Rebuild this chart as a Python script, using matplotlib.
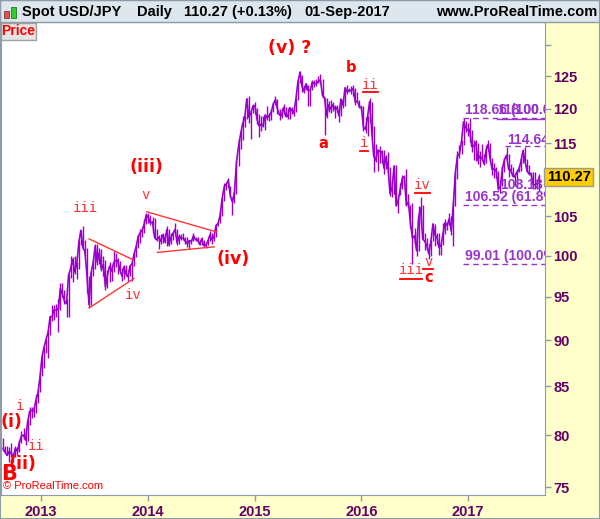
import pandas as pd
import matplotlib.pyplot as plt
import numpy as np
from matplotlib.patches import Rectangle
from matplotlib.ticker import FixedLocator, NullLocator

plt.rcParams['font.family'] = ['Liberation Sans', 'DejaVu Sans']

# weekly (Friday) close / high / low, starting 24-Aug-2012
start = '2012-08-24'
close12 = [78.7, 78.3, 78.0, 78.4, 78.2, 77.9, 78.7, 78.4, 79.3, 79.9, 80.0, 79.5, 81.3, 82.4, 82.5, 82.4, 83.5, 84.2, 85.9]
high12 = [79.7, 78.9, 78.9, 78.8, 79.2, 78.2, 78.9, 78.8, 79.5, 80.4, 80.7, 80.4, 81.5, 82.8, 82.8, 82.8, 84.2, 84.6, 86.1]
low12 = [78.4, 78.2, 78.0, 77.4, 77.9, 77.4, 77.9, 78.0, 78.3, 79.2, 79.6, 79.0, 79.4, 81.0, 81.7, 81.8, 82.2, 83.3, 84.4]

close13 = [88.1, 89.2, 90.1, 90.9, 92.7, 92.7, 93.5, 93.4, 93.6, 96.0, 95.3, 94.5, 94.2, 97.6, 98.4, 99.5, 98.0,
           98.9, 101.6, 103.2, 101.0, 100.5, 97.5, 94.1, 97.9, 99.1, 101.2, 99.2, 100.4, 98.3, 98.9, 96.2, 97.6, 98.7,
           98.1, 99.1, 99.4, 99.4, 98.3, 97.5, 98.6, 97.8, 97.4, 98.7, 99.0, 100.2, 101.1, 102.4, 102.9, 103.2, 104.1, 105.2]
high13 = [88.4, 89.3, 90.2, 91.0, 92.8, 94.1, 94.0, 94.2, 94.8, 96.6, 96.7, 95.8, 94.8, 97.8, 99.9, 99.8, 99.9,
          99.2, 101.9, 103.3, 103.7, 102.0, 100.9, 97.5, 98.1, 99.4, 101.5, 101.5, 101.0, 100.8, 99.9, 99.4, 98.2, 99.2,
          98.9, 100.6, 100.3, 99.7, 99.3, 98.5, 98.8, 98.9, 98.2, 98.9, 99.2, 100.4, 101.3, 102.6, 103.4, 103.6, 104.6, 105.4]
low13 = [86.1, 87.0, 88.6, 88.1, 90.6, 92.2, 92.3, 92.7, 90.9, 93.5, 95.0, 94.2, 92.6, 92.6, 97.2, 96.8, 97.8,
         97.1, 98.3, 101.3, 100.8, 100.0, 95.5, 93.8, 94.1, 97.5, 98.4, 98.8, 99.0, 98.1, 97.5, 95.8, 96.1, 96.8,
         96.9, 98.0, 98.6, 97.8, 98.1, 96.9, 97.1, 97.5, 96.9, 97.5, 96.9, 98.7, 99.8, 100.9, 101.6, 102.4, 102.9, 104.0]

close14 = [104.8, 104.1, 104.3, 102.3, 102.0, 102.3, 101.8, 102.6, 101.8, 103.3, 101.4, 102.3, 102.8, 103.3, 101.6,
           102.4, 102.2, 102.2, 101.8, 101.5, 101.9, 101.8, 102.5, 102.0, 102.0, 101.4, 102.1, 101.3, 101.3, 101.8,
           102.6, 102.0, 102.4, 103.8, 104.1, 105.1, 107.4, 108.9, 109.3, 109.8, 107.7, 106.9, 108.2, 112.3, 114.6,
           116.3, 117.8, 118.6, 121.5, 118.8, 119.4, 120.4]
high14 = [105.4, 105.2, 104.9, 104.8, 103.4, 102.6, 102.7, 102.8, 102.7, 103.8, 103.4, 102.8, 102.9, 104.1, 103.4,
          102.7, 102.7, 102.9, 102.3, 102.3, 101.9, 102.0, 102.8, 102.4, 102.3, 102.0, 102.3, 101.9, 101.6, 101.9,
          103.1, 102.8, 102.6, 104.0, 104.2, 105.7, 107.4, 109.5, 109.4, 110.1, 109.1, 107.5, 108.4, 112.5, 115.6,
          116.9, 118.9, 118.9, 121.7, 121.9, 119.6, 120.8]
low14 = [104.2, 103.9, 102.9, 102.1, 101.8, 100.8, 101.4, 101.6, 101.6, 101.2, 101.2, 101.4, 102.0, 102.9, 101.3,
         101.4, 101.9, 102.0, 101.4, 101.1, 100.8, 101.5, 101.8, 101.8, 101.7, 101.3, 101.3, 101.1, 101.0, 101.3,
         101.8, 101.5, 101.8, 102.4, 103.7, 104.1, 105.0, 107.0, 108.5, 108.9, 107.6, 105.2, 106.7, 107.9, 111.8,
         114.2, 115.5, 117.3, 118.5, 117.9, 115.6, 119.4]

close15 = [120.5, 118.5, 117.5, 117.7, 117.5, 119.1, 118.7, 119.0, 119.6, 120.8, 121.4, 120.0, 119.1, 119.0, 120.2,
           118.9, 118.9, 120.2, 119.8, 119.4, 121.5, 124.1, 125.6, 123.4, 122.7, 123.8, 122.8, 122.8, 124.1, 123.8,
           123.9, 124.2, 124.4, 122.0, 121.7, 119.0, 120.6, 120.0, 120.6, 120.0, 120.2, 119.0, 121.5, 120.6, 123.2,
           122.6, 122.8, 122.8, 123.1, 121.0, 121.2, 120.3]
high15 = [121.0, 120.2, 119.2, 118.9, 118.9, 119.2, 120.5, 119.4, 119.8, 120.9, 122.0, 121.5, 120.0, 120.2, 120.8,
          120.3, 120.1, 120.2, 120.3, 120.0, 121.6, 124.2, 125.86, 125.2, 123.7, 124.0, 123.7, 123.0, 124.4, 124.4,
          124.6, 125.0, 125.3, 124.6, 121.7, 121.7, 121.2, 121.3, 121.1, 120.6, 120.6, 120.3, 121.5, 121.5, 123.3,
          123.6, 123.2, 123.4, 123.7, 123.2, 122.6, 121.4]
low15 = [119.3, 117.8, 115.9, 116.8, 117.3, 116.9, 118.4, 118.2, 118.4, 119.6, 120.6, 119.3, 118.3, 118.7, 119.3,
         118.8, 118.5, 118.5, 119.2, 118.9, 119.6, 121.3, 124.0, 122.5, 122.4, 122.8, 120.4, 120.4, 122.8, 123.3,
         123.4, 123.9, 123.8, 121.7, 116.2, 118.6, 119.6, 119.4, 119.7, 118.7, 119.6, 118.1, 118.9, 120.1, 120.4,
         122.3, 122.6, 122.3, 121.9, 120.6, 121.0, 120.2]

close16 = [120.2, 117.3, 117.0, 118.8, 121.1, 116.9, 113.2, 112.6, 114.0, 113.8, 113.8, 111.5, 113.0, 111.6, 108.0,
           108.8, 111.8, 106.4, 107.1, 108.6, 110.1, 110.3, 106.5, 106.9, 104.1, 102.2, 102.5, 100.6, 104.9, 106.1,
           102.1, 101.8, 101.3, 100.2, 101.8, 104.0, 102.6, 102.3, 101.0, 101.3, 102.9, 104.2, 103.8, 104.7, 103.1,
           106.6, 110.9, 113.2, 113.5, 115.3, 118.1, 117.2, 116.9]
high16 = [120.6, 120.4, 118.8, 118.9, 121.7, 121.0, 117.5, 114.9, 114.2, 114.6, 114.0, 114.1, 113.3, 113.8, 111.6,
          109.8, 111.9, 111.9, 107.4, 109.4, 110.6, 110.6, 111.4, 107.9, 106.5, 106.8, 103.5, 103.0, 106.3, 107.5,
          106.5, 102.8, 102.2, 101.4, 102.0, 104.2, 104.0, 102.8, 102.8, 101.5, 104.1, 104.6, 104.3, 105.5, 105.0,
          106.9, 111.0, 113.9, 114.8, 115.4, 118.66, 118.2, 117.9]
low16 = [119.8, 116.7, 116.5, 116.0, 118.0, 116.0, 111.0, 112.4, 111.1, 112.2, 112.2, 110.7, 111.4, 111.2, 107.7,
         107.6, 107.9, 106.3, 105.5, 107.8, 108.7, 109.2, 106.4, 106.2, 103.5, 99.0, 101.5, 100.0, 100.6, 104.0,
         101.9, 100.7, 100.8, 99.55, 99.9, 101.8, 101.2, 101.4, 100.1, 100.1, 101.3, 102.7, 103.3, 103.9, 102.6,
         101.2, 106.3, 110.0, 112.9, 113.5, 114.7, 116.6, 116.1]

close17 = [117.0, 114.5, 114.6, 115.1, 112.6, 113.2, 112.9, 112.1, 114.0, 114.8, 112.7, 111.3, 111.4, 111.1, 108.6,
           109.0, 111.5, 112.7, 113.3, 111.3, 111.3, 110.4, 110.3, 110.9, 111.3, 112.4, 113.9, 112.5, 111.1, 110.7,
           110.7, 109.2, 109.2, 109.4, 110.27]
high17 = [118.6, 116.9, 115.4, 115.4, 115.0, 113.9, 114.9, 113.5, 114.7, 115.5, 115.0, 112.9, 112.2, 111.6, 111.1,
          109.8, 111.8, 112.9, 114.4, 113.5, 112.1, 111.7, 110.8, 111.4, 111.8, 112.9, 114.2, 114.5, 112.8, 111.9,
          111.0, 110.9, 110.9, 109.8, 110.7]
low17 = [115.1, 113.8, 112.6, 112.5, 112.1, 111.6, 112.6, 111.9, 112.2, 113.9, 112.6, 110.6, 110.1, 110.1, 108.5,
         108.13, 109.0, 111.0, 112.6, 110.2, 110.8, 110.3, 109.1, 108.8, 110.9, 111.1, 112.2, 112.5, 111.0, 110.6,
         109.9, 108.7, 108.6, 108.6, 108.3]

close = close12 + close13 + close14 + close15 + close16 + close17
high = high12 + high13 + high14 + high15 + high16 + high17
low = low12 + low13 + low14 + low15 + low16 + low17

years = [2013, 2014, 2015, 2016, 2017]
price_ticks = [75, 80, 85, 90, 95, 100, 105, 110, 115, 120, 125, 130]
last_price = 110.27

# fibonacci / reference levels: (value, start, label, label_price)
levels = [(118.66, 2016.95, '118.66 (100.0%)', 119.8),
          (114.64, 2017.34, '114.64', 115.4),
          (106.52, 2016.95, '106.52 (61.8%)', 107.5),
          (99.01, 2016.95, '99.01 (100.0%)', 100.0)]

# elliott wave labels (text, time, price, kind)
waves = [('(v) ?', 2015.33, 129.4, 'big'), ('b', 2015.90, 126.4, 'abc'), ('a', 2015.64, 115.0, 'abc'),
         ('c', 2016.63, 97.3, 'abc'), ('(iii)', 2013.99, 111.6, 'big'), ('(iv)', 2014.80, 99.6, 'big'),
         ('(i)', 2012.72, 81.3, 'big'), ('(ii)', 2012.83, 77.2, 'big'), ('B', 2012.70, 76.2, 'B'),
         ('iii', 2013.41, 106.1, 'small'), ('v', 2013.98, 107.8, 'small'), ('iv', 2013.86, 95.2, 'small'),
         ('i', 2012.80, 82.9, 'small'), ('ii', 2012.95, 78.9, 'small')]
# underlined minor labels (text, time, price, underline price, half width)
waves_ul = [('ii', 2016.084, 123.6, 122.5, 0.07), ('i', 2016.024, 115.0, 113.9, 0.042),
            ('iv', 2016.572, 109.2, 108.1, 0.07), ('iii', 2016.464, 98.2, 97.1, 0.103),
            ('v', 2016.624, 99.2, 98.4, 0.047)]

# triangle trend lines
tri_t = [[2013.45, 2013.86], [2013.45, 2013.87], [2013.99, 2014.64], [2014.09, 2014.62]]
tri_p = [[102.1, 99.5], [93.7, 97.2], [105.6, 103.0], [100.4, 101.1]]

dates = pd.date_range(start, periods=len(close), freq='W-FRI')
t = dates.year + (dates.dayofyear - 1) / np.where(dates.is_leap_year, 366, 365)

purple = '#9900CC'
lvl_col = '#9933CC'
axis_col = '#660066'
red = '#FF0000'
light_red = '#FF3333'
grey = '#8E9BA6'

fig = plt.figure(figsize=(6, 5.19), dpi=100, facecolor='#FFFFCC')
ax = fig.add_axes([1 / 600, 24 / 519, 544 / 600, 473 / 519])
ax.set_facecolor('white')

ax.vlines(t, low, high, color=purple, lw=1.0)
ax.plot(t, close, color=purple, lw=1.2)

ax.set_yscale('log')
ax.set_xlim(2012.625, 2017.719)
ax.set_ylim(74.26, 133.7)

for val, t0, lab, lp in levels:
    ax.plot([t0, 2017.719], [val, val], color=lvl_col, lw=1, ls=(0, (4, 3)))
    ax.text(t0 + 0.02, lp, lab, color=lvl_col, fontsize=10, fontweight='bold', va='center', ha='left',
            clip_on=True)
ax.plot([2017.27, 2017.719], [118.5, 118.5], color=lvl_col, lw=1)
ax.text(2017.27, 119.8, '118.00', color=lvl_col, fontsize=10, fontweight='bold', va='center', clip_on=True)
ax.text(2017.30, 109.2, '108.13', color=lvl_col, fontsize=10, fontweight='bold', va='center', clip_on=True)

for tt, pp in zip(tri_t, tri_p):
    ax.plot(tt, pp, color=light_red, lw=1)

for txt, tx, py, kind in waves:
    if kind == 'big':
        ax.text(tx, py, txt, color=red, fontsize=12.5, fontweight='bold', family='DejaVu Sans',
                ha='center', va='center')
    elif kind == 'abc':
        ax.text(tx, py, txt, color=red, fontsize=10.5, fontweight='bold', family='DejaVu Sans',
                ha='center', va='center')
    elif kind == 'B':
        ax.text(tx, py, txt, color=red, fontsize=15, fontweight='bold', family='DejaVu Sans',
                ha='center', va='center')
    else:
        ax.text(tx, py, txt, color=light_red, fontsize=10, family='DejaVu Sans Mono',
                ha='center', va='center')

for txt, tx, py, up, hw in waves_ul:
    ax.text(tx, py, txt, color=light_red, fontsize=10, family='DejaVu Sans Mono', ha='center', va='center')
    ax.plot([tx - hw, tx + hw], [up, up], color=red, lw=1.3)

ax.text(0.004, 0.008, '\u00a9 ProRealTime.com', transform=ax.transAxes, color=red, fontsize=8,
        ha='left', va='bottom')

# axes styling
ax.yaxis.tick_right()
ax.yaxis.set_major_locator(FixedLocator(price_ticks))
ax.yaxis.set_minor_locator(NullLocator())
ax.set_yticklabels([str(p) if p < 130 else '' for p in price_ticks])
ax.set_xticks(years)
ax.set_xticklabels([str(y) for y in years])
ax.tick_params(axis='both', direction='out', length=4, width=1, color=grey, labelsize=10.5,
               labelcolor=axis_col, pad=3)
ax.tick_params(axis='y', pad=2)
for lab in ax.get_xticklabels() + ax.get_yticklabels():
    lab.set_fontweight('bold')
for sp in ax.spines.values():
    sp.set_color(grey)

# last price box on the right axis
ax.annotate(f'{last_price:.2f}', xy=(1, last_price), xycoords=('axes fraction', 'data'),
            xytext=(17, 0), textcoords='offset points', ha='center', va='center',
            fontsize=10.5, fontweight='bold', color='black',
            bbox=dict(boxstyle='square,pad=0.15', fc='#FFCC00', ec='#999999', lw=1))


def px(x, y):
    return x / 600, 1 - y / 519


# header bar
fig.patches.append(Rectangle(px(0, 22), 1, 22 / 519, transform=fig.transFigure,
                             facecolor='#DCE6EC', edgecolor='#8E9BA6', lw=1))
fig.patches.append(Rectangle(px(4, 18), 5 / 600, 7 / 519, transform=fig.transFigure,
                             facecolor='#E05050', edgecolor='#883333', lw=0.6))
fig.patches.append(Rectangle(px(11, 18), 5 / 600, 11 / 519, transform=fig.transFigure,
                             facecolor='#33CC33', edgecolor='#227722', lw=0.6))
fig.text(*px(22, 12), 'Spot USD/JPY', fontsize=10.5, fontweight='bold', va='center')
fig.text(*px(137, 12), 'Daily', fontsize=10.5, fontweight='bold', va='center')
fig.text(*px(184, 12), '110.27 (+0.13%)', fontsize=10.5, fontweight='bold', va='center')
fig.text(*px(304, 12), '01-Sep-2017', fontsize=10.5, fontweight='bold', va='center')
fig.text(*px(597, 12), 'www.ProRealTime.com', fontsize=10.5, fontweight='bold', va='center', ha='right')

# "Price" tag
fig.patches.append(Rectangle(px(1, 40), 35 / 600, 17 / 519, transform=fig.transFigure,
                             facecolor='#E4E4E4', edgecolor='#A0A0A0', lw=1))
fig.text(*px(18, 31), 'Price', fontsize=10, fontweight='bold', color=red, ha='center', va='center')

# outer border
fig.patches.append(Rectangle((0, 0), 1, 1, transform=fig.transFigure, fill=False,
                             edgecolor='#8E9BA6', lw=1.5))

plt.savefig('out.png', dpi=100, facecolor=fig.get_facecolor())
